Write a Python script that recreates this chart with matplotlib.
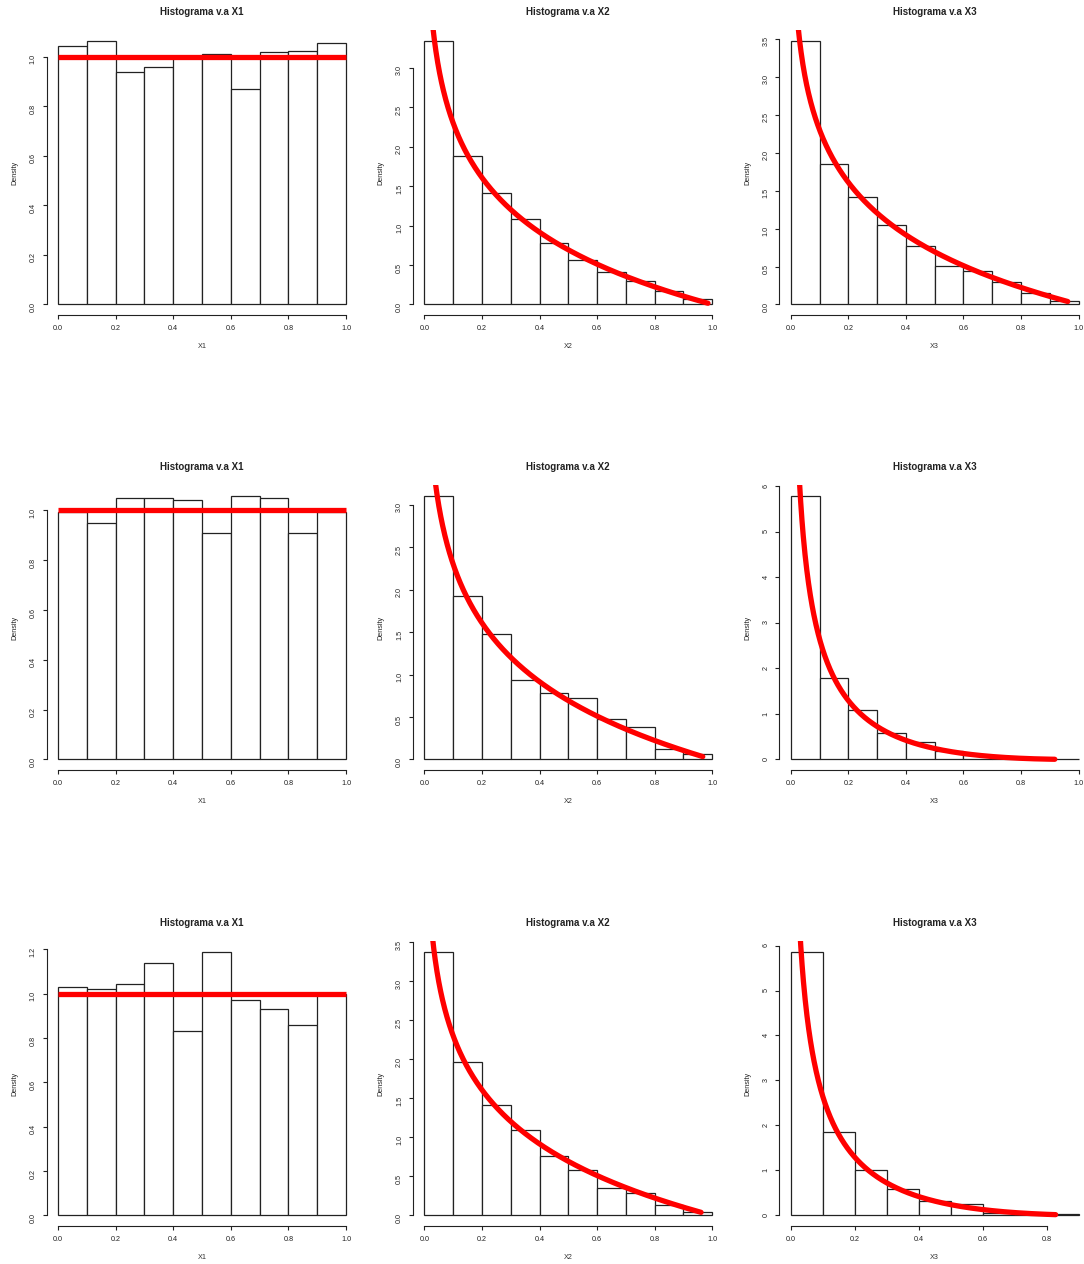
import numpy as np
import matplotlib.pyplot as plt

plt.rcParams['font.family'] = ['Liberation Sans', 'DejaVu Sans']

# bin edges
edges10 = [0.0, 0.1, 0.2, 0.3, 0.4, 0.5, 0.6, 0.7, 0.8, 0.9, 1.0]
edges9 = [0.0, 0.1, 0.2, 0.3, 0.4, 0.5, 0.6, 0.7, 0.8, 0.9]

# histogram densities (row 1, 2, 3)
x1_1 = [1.042, 1.065, 0.940, 0.958, 1.000, 1.011, 0.868, 1.019, 1.023, 1.056]
x2_1 = [3.347, 1.887, 1.413, 1.079, 0.779, 0.567, 0.410, 0.296, 0.165, 0.068]
x3_1 = [3.478, 1.851, 1.416, 1.047, 0.774, 0.501, 0.444, 0.295, 0.145, 0.048]
x1_2 = [0.995, 0.950, 1.052, 1.052, 1.043, 0.909, 1.060, 1.052, 0.909, 0.995]
x2_2 = [3.110, 1.927, 1.475, 0.936, 0.783, 0.724, 0.472, 0.381, 0.118, 0.063]
x3_2 = [5.800, 1.800, 1.094, 0.580, 0.374, 0.190, 0.095, 0.045, 0.020, 0.010]
x1_3 = [1.029, 1.020, 1.041, 1.139, 0.831, 1.189, 0.969, 0.932, 0.859, 1.000]
x2_3 = [3.380, 1.966, 1.415, 1.098, 0.761, 0.585, 0.346, 0.282, 0.132, 0.047]
x3_3 = [5.866, 1.844, 1.004, 0.595, 0.320, 0.245, 0.060, 0.020, 0.035]

# tick positions
xt_10 = [0.0, 0.2, 0.4, 0.6, 0.8, 1.0]
xt_9 = [0.0, 0.2, 0.4, 0.6, 0.8]
yt_x1 = [0.0, 0.2, 0.4, 0.6, 0.8, 1.0]
yt_x1_3 = [0.0, 0.2, 0.4, 0.6, 0.8, 1.0, 1.2]
yt_30 = [0.0, 0.5, 1.0, 1.5, 2.0, 2.5, 3.0]
yt_35 = [0.0, 0.5, 1.0, 1.5, 2.0, 2.5, 3.0, 3.5]
yt_6 = [0, 1, 2, 3, 4, 5, 6]

# where each red curve stops (range of the sample)
curve_end = [[1.0, 0.985, 0.962], [1.0, 0.967, 0.917], [1.0, 0.961, 0.828]]


def f_unif(x):
    return np.ones_like(x)


def f_prod2(x):
    # densidad de U1*U2
    return -np.log(x)


def f_prod3(x):
    # densidad de U1*U2*U3
    return np.log(x) ** 2 / 2


panels = [
    (0, 0, 'X1', x1_1, edges10, xt_10, yt_x1, f_unif),
    (0, 1, 'X2', x2_1, edges10, xt_10, yt_30, f_prod2),
    (0, 2, 'X3', x3_1, edges10, xt_10, yt_35, f_prod2),
    (1, 0, 'X1', x1_2, edges10, xt_10, yt_x1, f_unif),
    (1, 1, 'X2', x2_2, edges10, xt_10, yt_30, f_prod2),
    (1, 2, 'X3', x3_2, edges10, xt_10, yt_6, f_prod3),
    (2, 0, 'X1', x1_3, edges10, xt_10, yt_x1_3, f_unif),
    (2, 1, 'X2', x2_3, edges10, xt_10, yt_35, f_prod2),
    (2, 2, 'X3', x3_3, edges9, xt_9, yt_6, f_prod3),
]

W, H = 1084, 1264
col_left = [46.5, 412.8, 779.2]
row_top = [30, 485, 941]
pw, ph = 311, 285

fig = plt.figure(figsize=(W / 100, H / 100), dpi=100)

for r, c, name, dens, edges, xt, yt, f in panels:
    ax = fig.add_axes([col_left[c] / W, 1 - (row_top[r] + ph) / H, pw / W, ph / H])
    lo, hi = edges[0], edges[-1]
    ax.set_xlim(lo - 0.04 * (hi - lo), hi + 0.04 * (hi - lo))
    ymax = max(dens)
    ax.set_ylim(-0.04 * ymax, 1.04 * ymax)

    ax.bar(edges[:-1], dens, width=np.diff(edges), align='edge',
           facecolor='white', edgecolor='#222222', linewidth=0.9)

    if f is f_unif:
        xs = np.linspace(0, 1, 50)
        ax.plot(xs, f(xs), color='red', linewidth=3.8, solid_capstyle='butt')
    else:
        xs = np.linspace(0.004, curve_end[r][c], 600)
        ax.plot(xs, f(xs), color='red', linewidth=3.8, solid_capstyle='round')

    ax.spines['top'].set_visible(False)
    ax.spines['right'].set_visible(False)
    ax.spines['left'].set_bounds(yt[0], yt[-1])
    ax.spines['bottom'].set_bounds(xt[0], xt[-1])
    for s in ('left', 'bottom'):
        ax.spines[s].set_linewidth(0.8)
        ax.spines[s].set_color('#222222')

    ax.set_xticks(xt)
    ax.set_xticklabels(['%.1f' % t for t in xt])
    ax.set_yticks(yt)
    if yt is yt_6:
        ax.set_yticklabels(['%d' % t for t in yt])
    else:
        ax.set_yticklabels(['%.1f' % t for t in yt])
    ax.tick_params(direction='out', length=3.2, width=0.8, labelsize=5.2,
                   pad=3.8, colors='#222222')
    ax.tick_params(axis='y', labelrotation=90)

    ax.set_title('Histograma v.a ' + name, fontsize=7, fontweight='bold',
                 y=1 + 18 / ph, pad=0, va='center', color='#222222')
    ax.set_xlabel(name, fontsize=5.2, color='#333333')
    ax.xaxis.set_label_coords(0.5, -31.5 / ph)
    ax.xaxis.label.set_va('center')
    ax.set_ylabel('Density', fontsize=5.2, color='#222222')
    ax.yaxis.set_label_coords(-31.5 / pw, 0.5)
    ax.yaxis.label.set_va('center')

fig.savefig('out.png', dpi=100)
